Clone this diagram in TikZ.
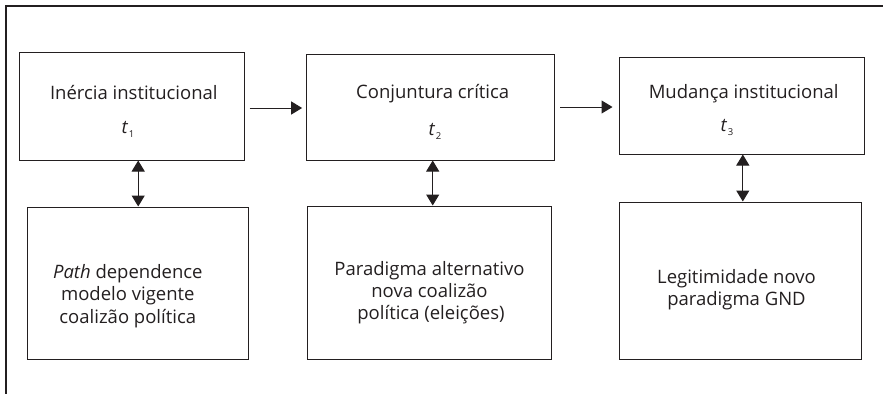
\documentclass[tikz,border=0pt]{standalone}
\usepackage{fontspec}
\setmainfont{Open Sans}
\usetikzlibrary{arrows.meta}
\definecolor{ink}{HTML}{231F20}
\newcommand{\tsub}[1]{\textit{t}\kern0.5pt\raisebox{-4pt}{\fontsize{9.5}{10}\selectfont #1}}
\begin{document}
\begin{tikzpicture}[x=1pt,y=-1pt,
  box/.style={draw=ink, line width=1pt, inner sep=0pt},
  lbl/.style={anchor=base, inner sep=0pt, text=ink, font=\fontsize{18.5}{22}\selectfont},
  arr/.style={draw=ink, line width=1pt, -{Triangle[width=13pt,length=11pt]}},
  darr/.style={draw=ink, line width=1pt, {Triangle[width=13pt,length=11pt]}-{Triangle[width=13pt,length=11pt]}},
  frameline/.style={draw=ink, line width=1.5pt}]
\useasboundingbox (0,0) rectangle (883,394);
% frame
\coordinate (ftl) at (6,6);
\coordinate (ftr) at (883,6);
\coordinate (fbl) at (6,394);
\draw[frameline] (ftr) -- (ftl) -- (fbl);
% top boxes
\node[box, minimum width=224.7pt, minimum height=108pt] (b1) at (131.7,106) {};
\node[box, minimum width=248.3pt, minimum height=106pt] (b2) at (430.8,107) {};
\node[box, minimum width=245pt, minimum height=97pt] (b3) at (741.5,105.5) {};
% lower boxes
\node[box, minimum width=221pt, minimum height=152pt] (l1) at (138.2,283) {};
\node[box, minimum width=244pt, minimum height=153pt] (l2) at (429.7,282.5) {};
\node[box, minimum width=241.7pt, minimum height=157pt] (l3) at (740.8,280.5) {};
% top texts
\node[lbl] (b1a) at (133.8,99.3) {Inércia institucional};
\node[lbl] (b1t) at (128,133) {\tsub{1}};
\node[lbl] (b2a) at (432.7,98.5) {Conjuntura crítica};
\node[lbl] (b2t) at (435,135) {\tsub{2}};
\node[lbl] (b3a) at (743.7,98.3) {Mudança institucional};
\node[lbl] (b3t) at (727,131) {\tsub{3}};
% lower texts
\node[lbl] (l1a) at (127.8,278) {\textit{Path} dependence};
\node[lbl] (l1b) at (127.8,300.5) {modelo vigente};
\node[lbl] (l1c) at (127.8,323) {coalizão política};
\node[lbl] (l2a) at (429.5,275.7) {Paradigma alternativo};
\node[lbl] (l2b) at (429.5,297.5) {nova coalizão};
\node[lbl] (l2c) at (431,319.3) {política (eleições)};
\node[lbl] (l3a) at (736.5,283) {Legitimidade novo};
\node[lbl] (l3b) at (736.5,305) {paradigma GND};
% connectors
\draw[arr] ([xshift=5pt,yshift=-2pt]b1.east) -- ([xshift=-4pt,yshift=-2pt]b1.east -| b2.west);
\draw[arr] ([xshift=5pt]b2.east) -- ([xshift=-6pt]b2.east -| b3.west);
\draw[darr] (b1.south -| l1.north) -- (l1.north);
\draw[darr] ([xshift=3pt]l2.north |- b2.south) -- ([xshift=3pt]l2.north);
\draw[darr] ([xshift=2pt]l3.north |- b3.south) -- ([xshift=2pt]l3.north);
\end{tikzpicture}
\end{document}
